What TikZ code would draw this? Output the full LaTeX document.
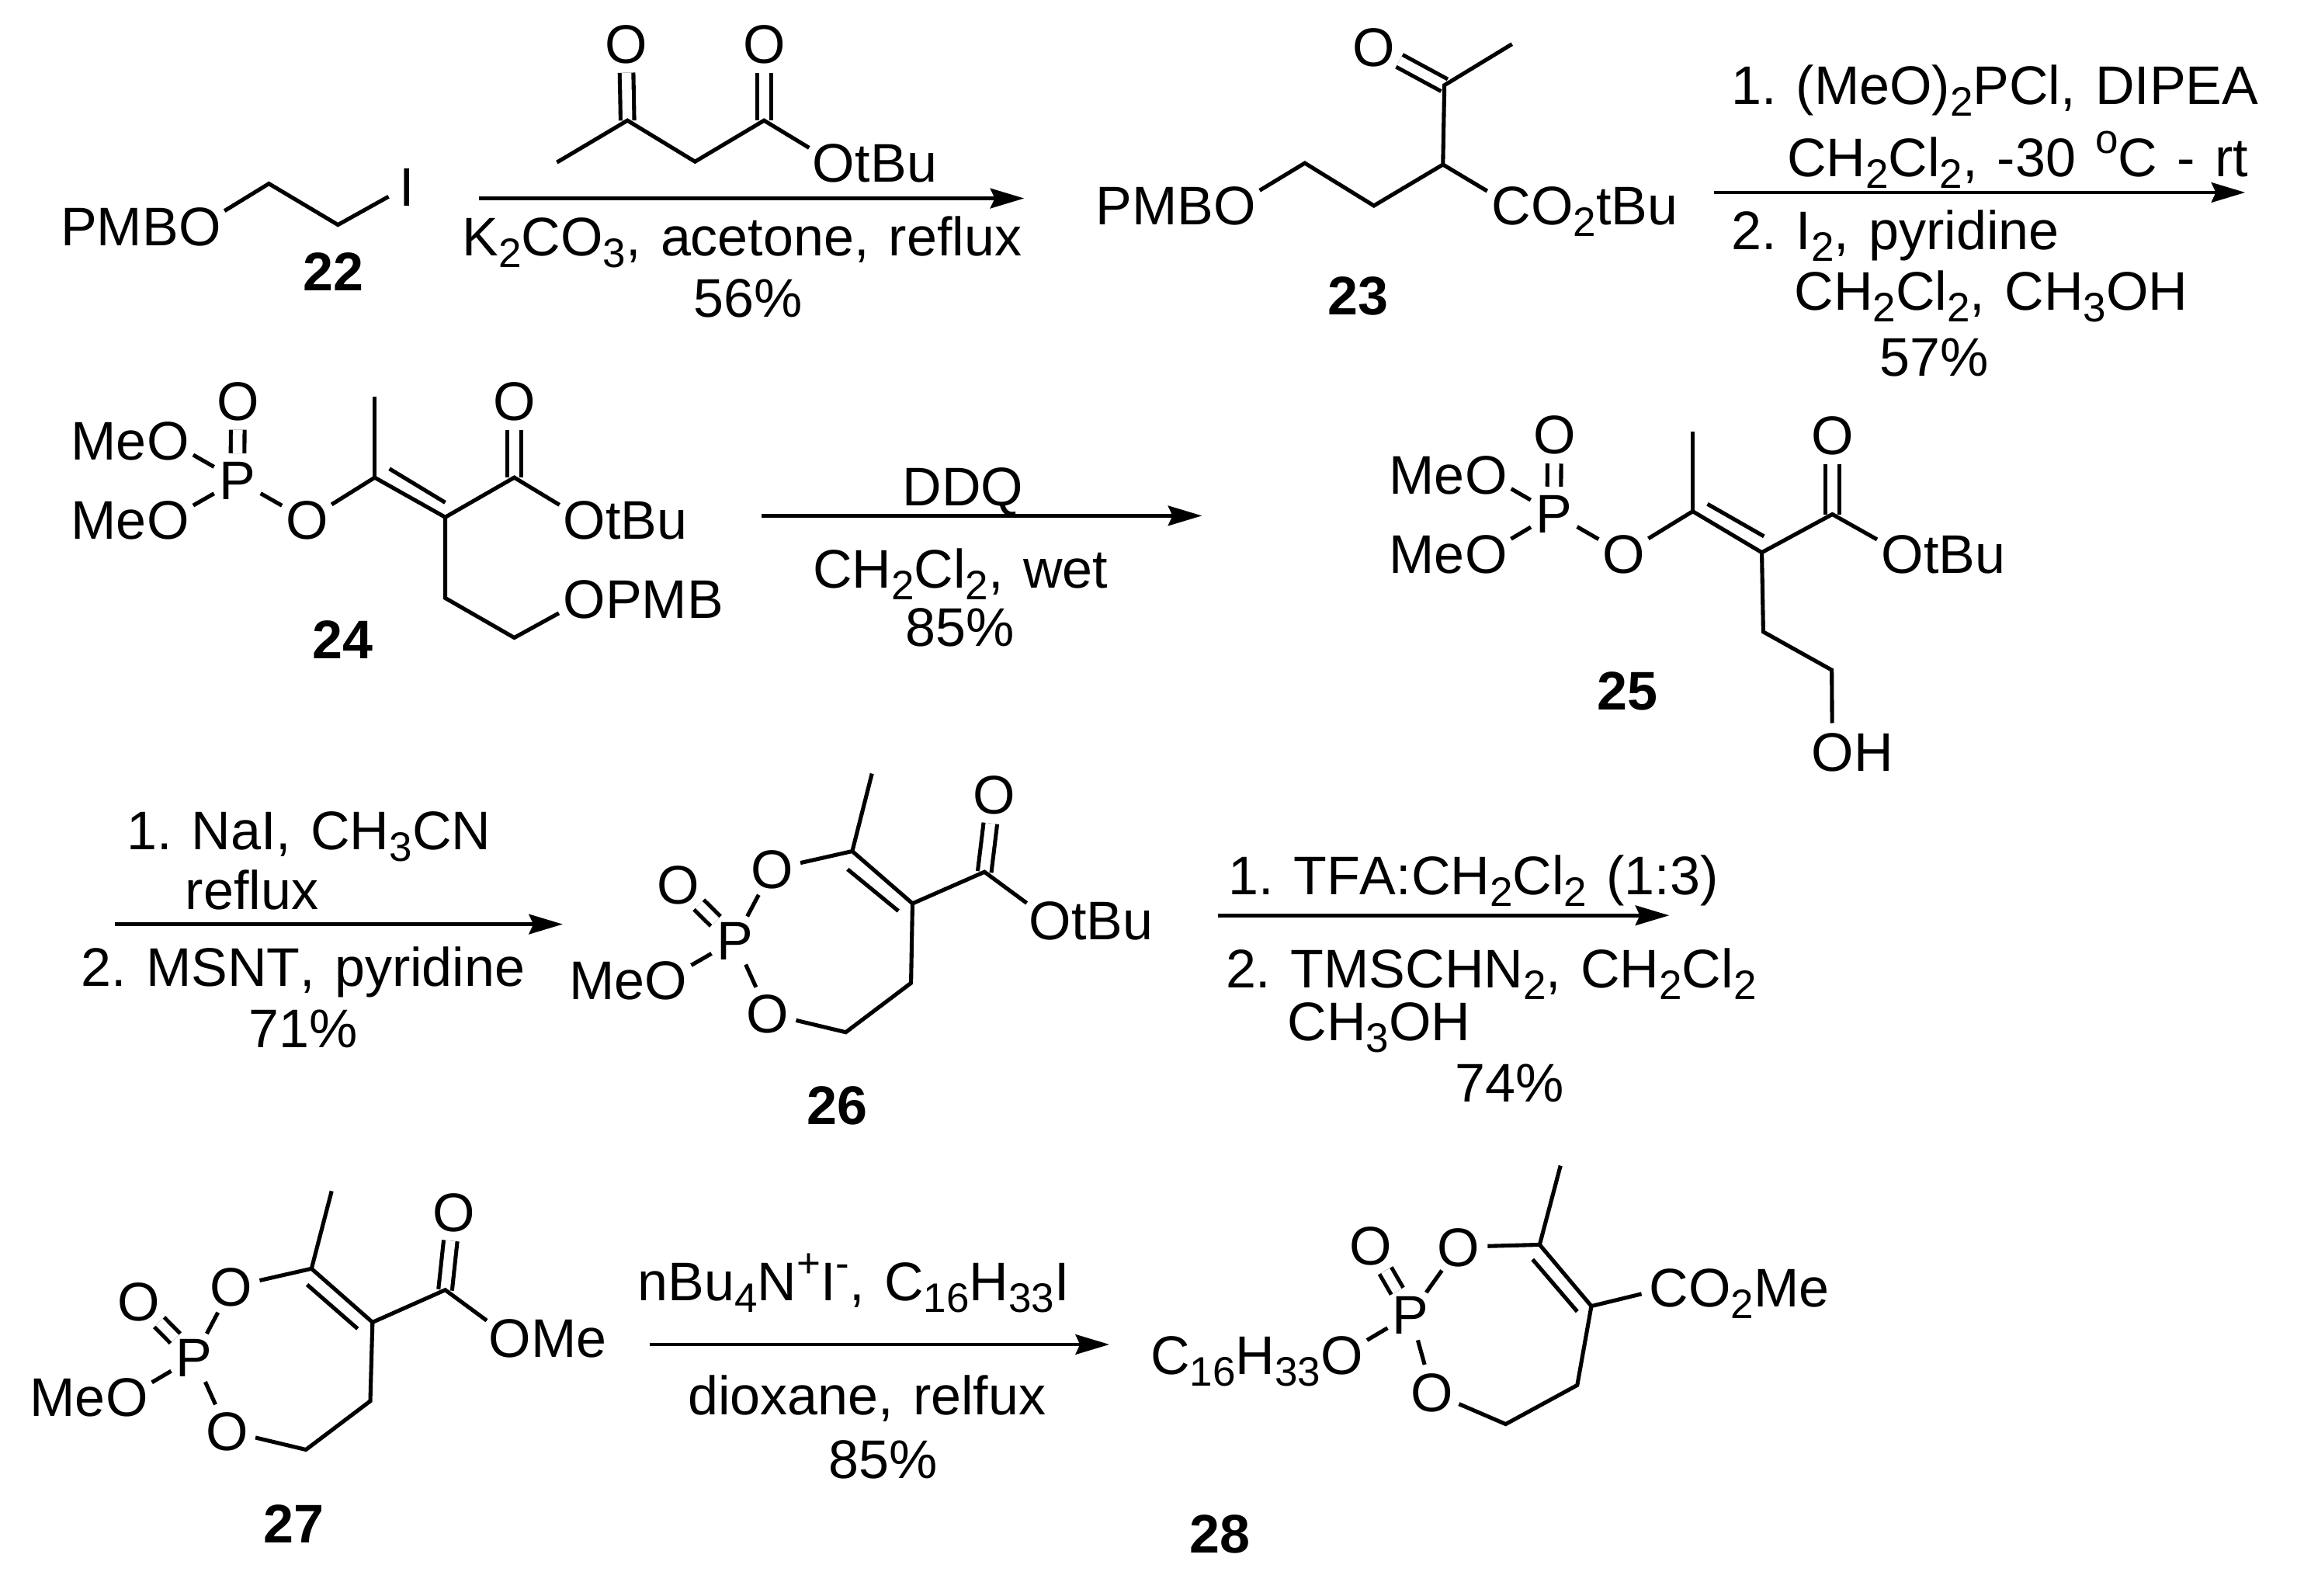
\documentclass[tikz,border=0pt]{standalone}
\usepackage{fontspec}
\setmainfont[Kerning=Off,Ligatures=NoCommon]{Liberation Sans}
\usetikzlibrary{arrows.meta}
\newcommand{\chemfont}{\fontsize{37}{44}\selectfont\frenchspacing\spaceskip=13.3pt\relax}
\newcommand{\lowr}[1]{\raisebox{-8pt}{\fontsize{28}{28}\selectfont #1}}
\newcommand{\highr}[1]{\raisebox{15.5pt}{\fontsize{28}{28}\selectfont #1}}
\begin{document}
\begin{tikzpicture}[
		x=1pt, y=-1pt,
		atom/.style = {
			circle,
			inner sep = 0pt,
			text height = 26.5pt,
			text depth = 0pt,
			font = \chemfont
		},
		txt/.style = {
			inner sep = 0pt,
			anchor = base west,
			font = \chemfont
		},
		tag/.style = {
			inner sep = 0pt,
			anchor = base,
			font = \chemfont\bfseries
		},
		bond/.style = {
			line width = 2.7pt
		},
		dbl/.style = {
			bond,
			double,
			double distance = 6.6pt
		},
		rxn/.style = {
			line width = 2.6pt,
			-{Stealth[length=23pt,width=13.5pt,inset=3pt]}
		}
	]
	\useasboundingbox (0,0) rectangle (1568,1086);

	% 22 and the ketoester above the first arrow
	\node[atom] (O22) at (136,153.8) {O};
	\node[atom] (I22) at (277,126.8) {I};
	\node[txt, anchor=base east] (PMB22) at ([xshift=-14.4pt]O22.base) {PMB};
	\node[tag] (t22) at (227,198) {22};
	\coordinate (c22a) at (183,125);
	\coordinate (c22b) at (230,153);
	\draw[bond] (O22) -- (c22a) -- (c22b) -- (I22);

	\node[atom] (Oka) at (426,29.8) {O};
	\node[atom] (Okb) at (520,29.8) {O};
	\node[atom] (Okc) at (567.5,110.8) {O};
	\node[txt] (tBuk) at ([xshift=14.4pt]Okc.base) {tBu};
	\coordinate (kme) at (379,110.5);
	\coordinate (kco) at (427,82);
	\coordinate (kch) at (473,110);
	\coordinate (kes) at (520,82);
	\draw[dbl] (kco) -- (Oka);
	\draw[dbl] (kes) -- (Okb);
	\draw[bond] (kme) -- (kco) -- (kch) -- (kes) -- (Okc);

	\coordinate (a1s) at (326,135);
	\coordinate (a1e) at (697,135);
	\draw[rxn] (a1s) -- (a1e);
	\node[txt] (r1a) at (314.5,174) {K\lowr{2}CO\lowr{3}, acetone, reflux};
	\node[txt] (r1b) at (472,216) {56\%};

	% 23
	\node[atom] (O23) at (840.4,139.8) {O};
	\node[txt, anchor=base east] (PMB23) at ([xshift=-14.4pt]O23.base) {PMB};
	\node[atom] (Ok23) at (935,32) {O};
	\node[atom] (C23) at (1028.4,139.8) {C};
	\node[txt] (CO23) at ([xshift=13.35pt]C23.base) {O\lowr{2}tBu};
	\node[tag] (t23) at (924,214) {23};
	\coordinate (c23a) at (888,111);
	\coordinate (c23b) at (935,140);
	\coordinate (c23c) at (982,112);
	\coordinate (c23d) at (983,58);
	\coordinate (c23e) at (1029,30);
	\draw[dbl] (c23d) -- (Ok23);
	\draw[bond] (O23) -- (c23a) -- (c23b) -- (c23c) -- (c23d) -- (c23e);
	\draw[bond] (c23c) -- (C23);

	\coordinate (a2s) at (1166.5,131);
	\coordinate (a2e) at (1528,131);
	\draw[rxn] (a2s) -- (a2e);
	\node[txt] (r2a) at (1178,71) {1. (MeO)\lowr{2}PCl, DIPEA};
	\node[txt] (r2b) at (1216,120) {CH\lowr{2}Cl\lowr{2}, -30 \highr{o}C - rt};
	\node[txt] (r2c) at (1178,170) {2. I\lowr{2}, pyridine};
	\node[txt] (r2d) at (1221,211) {CH\lowr{2}Cl\lowr{2}, CH\lowr{3}OH};
	\node[txt] (r2e) at (1279,256) {57\%};

	% 24
	\node[atom] (P24) at (161.5,326.8) {P};
	\node[atom] (Op24) at (162,272.8) {O};
	\node[atom] (Oa24) at (114.4,299.8) {O};
	\node[atom] (Ob24) at (114.4,353.8) {O};
	\node[txt, anchor=base east] (Mea24) at ([xshift=-14.4pt]Oa24.base) {Me};
	\node[txt, anchor=base east] (Meb24) at ([xshift=-14.4pt]Ob24.base) {Me};
	\node[atom] (Oc24) at (209,353.8) {O};
	\node[atom] (Ok24) at (350,272.8) {O};
	\node[atom] (Oe24) at (397.6,353.8) {O};
	\node[txt] (tBu24) at ([xshift=14.4pt]Oe24.base) {tBu};
	\node[atom] (Og24) at (397.6,407.8) {O};
	\node[txt] (PMB24) at ([xshift=14.4pt]Og24.base) {PMB};
	\node[tag] (t24) at (233,448) {24};
	\coordinate (me24) at (255,270);
	\coordinate (c24a) at (255,325);
	\coordinate (c24b) at (303,352);
	\coordinate (c24c) at (350,325);
	\coordinate (c24d) at (303,407);
	\coordinate (c24e) at (350,434);
	\coordinate (d24a) at (265,319);
	\coordinate (d24b) at (303,342);
	\draw[dbl] (P24) -- (Op24);
	\draw[dbl] (c24c) -- (Ok24);
	\draw[bond] (Oa24) -- (P24) -- (Ob24);
	\draw[bond] (P24) -- (Oc24) -- (c24a) -- (c24b) -- (c24c) -- (Oe24);
	\draw[bond] (me24) -- (c24a);
	\draw[bond] (d24a) -- (d24b);
	\draw[bond] (c24b) -- (c24d) -- (c24e) -- (Og24);

	\coordinate (a3s) at (518,351);
	\coordinate (a3e) at (818,351);
	\draw[rxn] (a3s) -- (a3e);
	\node[txt] (r3a) at (614,344) {DDQ};
	\node[txt] (r3b) at (553,400) {CH\lowr{2}Cl\lowr{2}, wet};
	\node[txt] (r3c) at (616,440) {85\%};

	% 25
	\node[atom] (P25) at (1057.5,349.4) {P};
	\node[atom] (Op25) at (1058,295.8) {O};
	\node[atom] (Oa25) at (1011.4,322.8) {O};
	\node[atom] (Ob25) at (1011.4,376.8) {O};
	\node[txt, anchor=base east] (Mea25) at ([xshift=-14.4pt]Oa25.base) {Me};
	\node[txt, anchor=base east] (Meb25) at ([xshift=-14.4pt]Ob25.base) {Me};
	\node[atom] (Oc25) at (1105,376.8) {O};
	\node[atom] (Ok25) at (1247,296.3) {O};
	\node[atom] (Oe25) at (1294.6,376.8) {O};
	\node[txt] (tBu25) at ([xshift=14.4pt]Oe25.base) {tBu};
	\node[atom] (Oh25) at (1247,511.8) {O};
	\node[txt] (H25) at ([xshift=14.4pt]Oh25.base) {H};
	\node[tag] (t25) at (1107.5,483) {25};
	\coordinate (me25) at (1152,293.6);
	\coordinate (c25a) at (1152,348);
	\coordinate (c25b) at (1199,376);
	\coordinate (c25c) at (1247,350);
	\coordinate (c25d) at (1200,430);
	\coordinate (c25e) at (1246.6,456);
	\coordinate (d25a) at (1162,343);
	\coordinate (d25b) at (1200.5,365);
	\draw[dbl] (P25) -- (Op25);
	\draw[dbl] (c25c) -- (Ok25);
	\draw[bond] (Oa25) -- (P25) -- (Ob25);
	\draw[bond] (P25) -- (Oc25) -- (c25a) -- (c25b) -- (c25c) -- (Oe25);
	\draw[bond] (me25) -- (c25a);
	\draw[bond] (d25a) -- (d25b);
	\draw[bond] (c25b) -- (c25d) -- (c25e) -- (Oh25);

	\coordinate (a4s) at (78,629);
	\coordinate (a4e) at (383,629);
	\draw[rxn] (a4s) -- (a4e);
	\node[txt] (r4a) at (86,578) {1. NaI, CH\lowr{3}CN};
	\node[txt] (r4b) at (126,619) {reflux};
	\node[txt] (r4c) at (55,671) {2. MSNT, pyridine};
	\node[txt] (r4d) at (169,713) {71\%};

	% 26
	\node[atom] (P26) at (500,639.8) {P};
	\node[atom] (Op26) at (461.6,601.8) {O};
	\node[atom] (Oa26) at (453.4,666.8) {O};
	\node[txt, anchor=base east] (Me26) at ([xshift=-14.4pt]Oa26.base) {Me};
	\node[atom] (Ot26) at (525.5,591.6) {O};
	\node[atom] (Ob26) at (522.6,689.8) {O};
	\node[atom] (Ok26) at (676.4,540.8) {O};
	\node[atom] (Oe26) at (714.6,626.3) {O};
	\node[txt] (tBu26) at ([xshift=14.4pt]Oe26.base) {tBu};
	\node[tag] (t26) at (570,765.5) {26};
	\coordinate (me26) at (593.4,526.5);
	\coordinate (c26a) at (580,579.3);
	\coordinate (c26b) at (621,614.9);
	\coordinate (c26c) at (670,593.4);
	\coordinate (c26d) at (620,669);
	\coordinate (c26e) at (575.6,702.5);
	\coordinate (d26a) at (576.8,591.6);
	\coordinate (d26b) at (611.4,620);
	\draw[dbl] (P26) -- (Op26);
	\draw[dbl] (c26c) -- (Ok26);
	\draw[bond] (Oa26) -- (P26) -- (Ot26) -- (c26a) -- (c26b) -- (c26c) -- (Oe26);
	\draw[bond] (me26) -- (c26a);
	\draw[bond] (d26a) -- (d26b);
	\draw[bond] (P26) -- (Ob26) -- (c26e) -- (c26d) -- (c26b);

	\coordinate (a5s) at (829,623);
	\coordinate (a5e) at (1136,623);
	\draw[rxn] (a5s) -- (a5e);
	\node[txt] (r5a) at (836,609) {1. TFA:CH\lowr{2}Cl\lowr{2} (1:3)};
	\node[txt] (r5b) at (834,672) {2. TMSCHN\lowr{2}, CH\lowr{2}Cl\lowr{2}};
	\node[txt] (r5c) at (876,708) {CH\lowr{3}OH};
	\node[txt] (r5d) at (990,750) {74\%};

	% 27
	\node[atom] (P27) at (132.2,923.8) {P};
	\node[atom] (Op27) at (94.5,885.8) {O};
	\node[atom] (Oa27) at (86.4,950.8) {O};
	\node[txt, anchor=base east] (Me27) at ([xshift=-14.4pt]Oa27.base) {Me};
	\node[atom] (Ot27) at (157.5,875.8) {O};
	\node[atom] (Ob27) at (154.7,973.8) {O};
	\node[atom] (Ok27) at (308.7,824.8) {O};
	\node[atom] (Oe27) at (347.1,910.4) {O};
	\node[txt] (Mee27) at ([xshift=14.4pt]Oe27.base) {Me};
	\node[tag] (t27) at (200,1050) {27};
	\coordinate (me27) at (225.7,810.6);
	\coordinate (c27a) at (212,863.4);
	\coordinate (c27b) at (253.5,899.9);
	\coordinate (c27c) at (303,877.9);
	\coordinate (c27d) at (252,953.5);
	\coordinate (c27e) at (208.2,986.6);
	\coordinate (d27a) at (209,874.3);
	\coordinate (d27b) at (243.4,904.3);
	\draw[dbl] (P27) -- (Op27);
	\draw[dbl] (c27c) -- (Ok27);
	\draw[bond] (Oa27) -- (P27) -- (Ot27) -- (c27a) -- (c27b) -- (c27c) -- (Oe27);
	\draw[bond] (me27) -- (c27a);
	\draw[bond] (d27a) -- (d27b);
	\draw[bond] (P27) -- (Ob27) -- (c27e) -- (c27d) -- (c27b);

	\coordinate (a6s) at (442,915);
	\coordinate (a6e) at (755,915);
	\draw[rxn] (a6s) -- (a6e);
	\node[txt] (r6a) at (434,885) {nBu\lowr{4}N\highr{+}I\highr{-}, C\lowr{16}H\lowr{33}I};
	\node[txt] (r6b) at (468,963) {dioxane, relfux};
	\node[txt] (r6c) at (564,1006) {85\%};

	% 28
	\node[atom] (P28) at (960,894.5) {P};
	\node[atom] (Op28) at (933,847.7) {O};
	\node[atom] (Oa28) at (913.4,922.1) {O};
	\node[txt, anchor=base east] (R28) at ([xshift=-14.4pt]Oa28.base) {C\lowr{16}H\lowr{33}};
	\node[atom] (Ot28) at (992.7,848.6) {O};
	\node[atom] (Ob28) at (974.8,947.7) {O};
	\node[atom] (C28) at (1135.6,876.1) {C};
	\node[txt] (CO28) at ([xshift=13.35pt]C28.base) {O\lowr{2}Me};
	\node[tag] (t28) at (830,1057) {28};
	\coordinate (me28) at (1062,793.3);
	\coordinate (c28a) at (1047.8,847.1);
	\coordinate (c28b) at (1083,888.9);
	\coordinate (c28d) at (1073.4,942.7);
	\coordinate (c28e) at (1024.7,969.2);
	\coordinate (d28a) at (1043,857.1);
	\coordinate (d28b) at (1073.4,892.6);
	\draw[dbl] (P28) -- (Op28);
	\draw[bond] (Oa28) -- (P28) -- (Ot28) -- (c28a) -- (c28b) -- (C28);
	\draw[bond] (me28) -- (c28a);
	\draw[bond] (d28a) -- (d28b);
	\draw[bond] (P28) -- (Ob28) -- (c28e) -- (c28d) -- (c28b);
\end{tikzpicture}
\end{document}
